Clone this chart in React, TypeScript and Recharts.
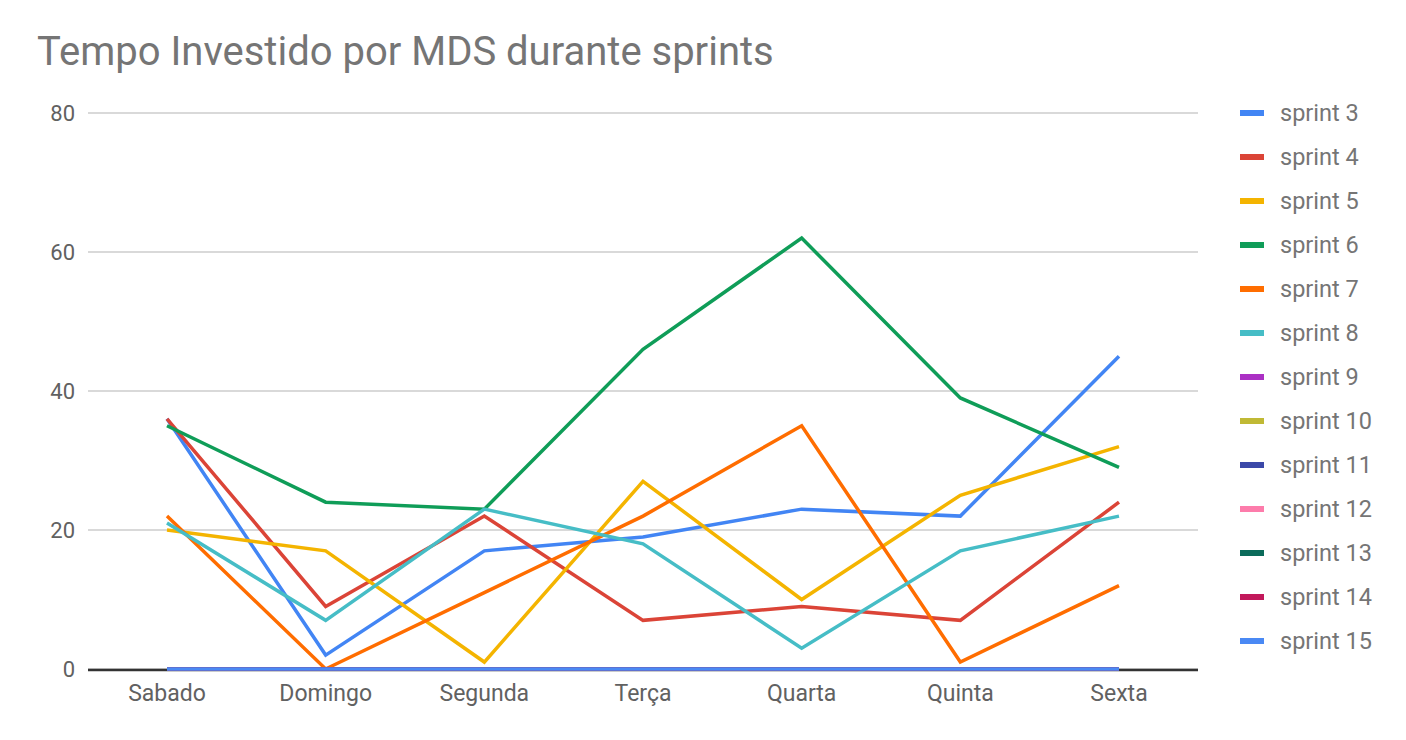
import { LineChart, Line, XAxis, YAxis, CartesianGrid } from 'recharts'

const days = ['Sabado', 'Domingo', 'Segunda', 'Terça', 'Quarta', 'Quinta', 'Sexta']

const sprint3 = [36, 2, 17, 19, 23, 22, 45]
const sprint4 = [36, 9, 22, 7, 9, 7, 24]
const sprint5 = [20, 17, 1, 27, 10, 25, 32]
const sprint6 = [35, 24, 23, 46, 62, 39, 29]
const sprint7 = [22, 0, 11, 22, 35, 1, 12]
const sprint8 = [21, 7, 23, 18, 3, 17, 22]
const sprint9 = [0, 0, 0, 0, 0, 0, 0]
const sprint10 = [0, 0, 0, 0, 0, 0, 0]
const sprint11 = [0, 0, 0, 0, 0, 0, 0]
const sprint12 = [0, 0, 0, 0, 0, 0, 0]
const sprint13 = [0, 0, 0, 0, 0, 0, 0]
const sprint14 = [0, 0, 0, 0, 0, 0, 0]
const sprint15 = [0, 0, 0, 0, 0, 0, 0]

const yTicks = [0, 20, 40, 60, 80]

const SERIES = [
  { key: 'sprint 3', values: sprint3, color: '#4285f4' },
  { key: 'sprint 4', values: sprint4, color: '#db4437' },
  { key: 'sprint 5', values: sprint5, color: '#f4b400' },
  { key: 'sprint 6', values: sprint6, color: '#0f9d58' },
  { key: 'sprint 7', values: sprint7, color: '#ff6d00' },
  { key: 'sprint 8', values: sprint8, color: '#46bdc6' },
  { key: 'sprint 9', values: sprint9, color: '#ab30c4' },
  { key: 'sprint 10', values: sprint10, color: '#c0b935' },
  { key: 'sprint 11', values: sprint11, color: '#3b48a8' },
  { key: 'sprint 12', values: sprint12, color: '#fd7cab' },
  { key: 'sprint 13', values: sprint13, color: '#0b6b5a' },
  { key: 'sprint 14', values: sprint14, color: '#c2185b' },
  { key: 'sprint 15', values: sprint15, color: '#4a89f4' },
]

const data = days.map((day, i) => {
  const row: Record<string, string | number> = { day }
  SERIES.forEach((s) => {
    row[s.key] = s.values[i]
  })
  return row
})

const FONT = 'Roboto, "Noto Sans", sans-serif'

function LegendList() {
  return (
    <div style={{ position: 'absolute', left: 1240, top: 91 }}>
      {SERIES.map((s) => (
        <div key={s.key} style={{ display: 'flex', alignItems: 'center', height: 44 }}>
          <div style={{ width: 24, height: 6, backgroundColor: s.color, marginRight: 16 }} />
          <span style={{ fontSize: 23.5, color: '#757575', fontFamily: FONT }}>{s.key}</span>
        </div>
      ))}
    </div>
  )
}

// zero baseline sits at the bottom of the plot area
const baselineAtBottom = ({ offset, height }: any) => {
  const bottom = offset && offset.height != null ? offset.top + offset.height : height - 71
  return [bottom + 1]
}

export default function App() {
  return (
    <div style={{ position: 'absolute', left: 0, top: 0, width: 1406, height: 740, background: '#fff' }}>
      <div
        style={{
          position: 'absolute',
          left: 37,
          top: 28,
          fontSize: 40,
          lineHeight: '48px',
          color: '#757575',
          fontFamily: FONT,
          whiteSpace: 'nowrap',
        }}
      >
        Tempo Investido por MDS durante sprints
      </div>
      <LineChart
        width={1406}
        height={740}
        data={data}
        margin={{ top: 113, right: 208, bottom: 0, left: 0 }}
        style={{ position: 'absolute', left: 0, top: 0, fontFamily: FONT }}
      >
        <CartesianGrid vertical={false} stroke="#cccccc" strokeWidth={1.5} />
        <CartesianGrid
          vertical={false}
          stroke="#333333"
          strokeWidth={2.5}
          horizontalCoordinatesGenerator={baselineAtBottom}
        />
        <XAxis
          dataKey="day"
          height={71}
          padding={{ left: 79, right: 79 }}
          tickSize={0}
          tickMargin={16}
          axisLine={false}
          tick={{ fill: '#616161', fontSize: 23 }}
        />
        <YAxis
          width={88}
          domain={[0, 80]}
          ticks={yTicks}
          tickSize={0}
          tickMargin={13}
          axisLine={false}
          tick={{ fill: '#616161', fontSize: 22 }}
        />
        {SERIES.map((s) => (
          <Line
            key={s.key}
            type="linear"
            dataKey={s.key}
            stroke={s.color}
            strokeWidth={3.5}
            dot={false}
            activeDot={false}
            isAnimationActive={false}
          />
        ))}
      </LineChart>
      <LegendList />
    </div>
  )
}
